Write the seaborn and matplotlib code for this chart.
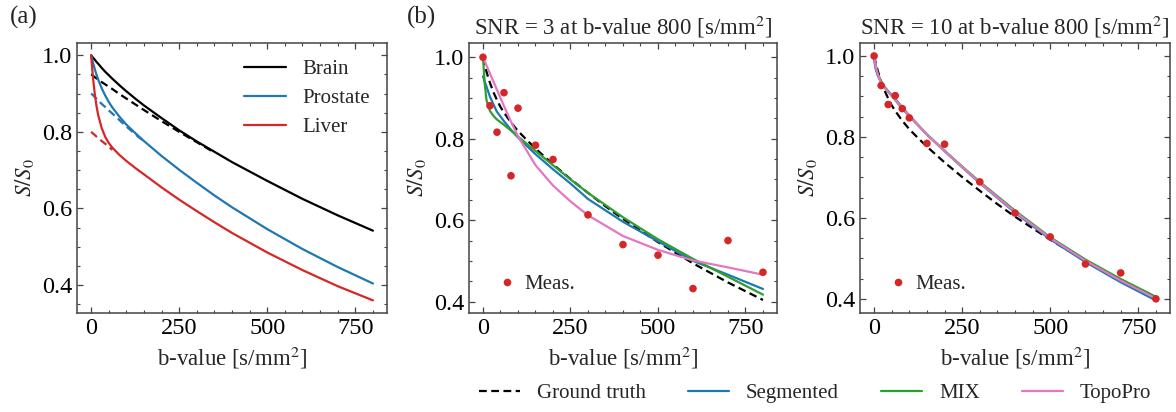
import numpy as np
import pandas as pd
import matplotlib
matplotlib.use("Agg")
import matplotlib.pyplot as plt
from matplotlib.lines import Line2D
from matplotlib.ticker import MultipleLocator
import seaborn as sns

# ---------------- data ----------------
b_a = [0, 5, 10, 15, 20, 30, 40, 50, 60, 80, 100, 125, 150, 200, 250, 300, 350, 400, 500, 600, 700, 800]
brain = [1.000, 0.994, 0.989, 0.983, 0.978, 0.967, 0.957, 0.948, 0.939, 0.922, 0.906, 0.887, 0.869, 0.836, 0.804, 0.775, 0.748, 0.721, 0.672, 0.625, 0.582, 0.542]
brain_dash = [0.950, 0.947, 0.943, 0.940, 0.937, 0.930, 0.924, 0.918, 0.912, 0.899, 0.887, 0.872, 0.857, 0.828, 0.800, 0.773, 0.746]
prostate = [1.000, 0.982, 0.965, 0.950, 0.937, 0.914, 0.895, 0.878, 0.864, 0.840, 0.819, 0.797, 0.776, 0.737, 0.701, 0.667, 0.634, 0.603, 0.546, 0.494, 0.447, 0.404]
prostate_dash = [0.900, 0.896, 0.891, 0.887, 0.882, 0.873, 0.865, 0.856, 0.848, 0.831, 0.814, 0.794, 0.775]
liver = [1.000, 0.944, 0.902, 0.869, 0.844, 0.810, 0.787, 0.771, 0.759, 0.740, 0.724, 0.706, 0.689, 0.655, 0.623, 0.593, 0.564, 0.536, 0.485, 0.439, 0.397, 0.360]
liver_dash = [0.800, 0.796, 0.792, 0.788, 0.784, 0.776, 0.769, 0.761, 0.753]

b_meas = [0, 20, 40, 60, 80, 100, 150, 200, 300, 400, 500, 600, 700, 800]
meas_snr3 = [1.000, 0.881, 0.816, 0.913, 0.709, 0.875, 0.784, 0.749, 0.613, 0.540, 0.514, 0.432, 0.550, 0.472]
meas_snr10 = [1.000, 0.927, 0.880, 0.902, 0.870, 0.847, 0.784, 0.782, 0.689, 0.612, 0.553, 0.486, 0.464, 0.400]

b_fit = [0, 5, 10, 20, 30, 40, 60, 80, 100, 150, 200, 250, 300, 400, 500, 600, 700, 800]
seg_snr3 = [0.953, 0.940, 0.928, 0.903, 0.884, 0.866, 0.843, 0.822, 0.803, 0.762, 0.725, 0.690, 0.652, 0.596, 0.548, 0.500, 0.466, 0.431]
mix_snr3 = [1.000, 0.935, 0.895, 0.868, 0.856, 0.847, 0.834, 0.820, 0.805, 0.770, 0.735, 0.700, 0.667, 0.607, 0.553, 0.505, 0.461, 0.417]
topo_snr3 = [1.000, 0.990, 0.980, 0.960, 0.940, 0.920, 0.880, 0.842, 0.806, 0.735, 0.685, 0.646, 0.612, 0.561, 0.527, 0.501, 0.484, 0.466]

seg_snr10 = [0.990, 0.966, 0.952, 0.935, 0.923, 0.913, 0.894, 0.873, 0.853, 0.806, 0.765, 0.725, 0.686, 0.613, 0.547, 0.491, 0.441, 0.396]
mix_snr10 = [1.000, 0.975, 0.958, 0.936, 0.922, 0.911, 0.891, 0.870, 0.851, 0.806, 0.766, 0.727, 0.689, 0.618, 0.552, 0.497, 0.449, 0.405]
topo_snr10 = [1.000, 0.972, 0.955, 0.933, 0.921, 0.911, 0.892, 0.872, 0.852, 0.806, 0.765, 0.726, 0.687, 0.615, 0.550, 0.494, 0.445, 0.401]

tissues = ["Brain", "Prostate", "Liver"]
methods = ["Ground truth", "Segmented", "MIX", "TopoPro"]
titles = ["SNR = 3 at b-value 800 [s/mm$^2$]", "SNR = 10 at b-value 800 [s/mm$^2$]"]

# ---------------- style ----------------
sns.set_style("ticks")
plt.rcParams.update({
    "font.family": ["Liberation Serif", "DejaVu Serif"],
    "mathtext.fontset": "stix",
    "axes.edgecolor": "#444444",
    "axes.linewidth": 1.1,
    "xtick.direction": "in",
    "ytick.direction": "in",
    "xtick.top": True,
    "ytick.right": True,
    "xtick.major.size": 4.5,
    "ytick.major.size": 4.5,
    "xtick.minor.size": 2.5,
    "ytick.minor.size": 2.5,
    "xtick.major.width": 0.9,
    "ytick.major.width": 0.9,
    "xtick.minor.width": 0.8,
    "ytick.minor.width": 0.8,
    "xtick.color": "#444444",
    "ytick.color": "#444444",
    "xtick.labelcolor": "black",
    "ytick.labelcolor": "black",
    "xtick.labelsize": 17.5,
    "ytick.labelsize": 17.5,
    "axes.labelsize": 16.5,
    "axes.titlesize": 16.5,
    "legend.fontsize": 15,
})

c_black = "black"
c_blue = "#1f77b4"
c_red = "#d62728"
c_green = "#2ca02c"
c_pink = "#e377c2"
lw = 1.6

fig = plt.figure(figsize=(11.76, 4.12), dpi=100)
ax_a = fig.add_axes([0.0655, 0.2403, 0.2636, 0.6553])
ax_b = fig.add_axes([0.3988, 0.2403, 0.2619, 0.6553])
ax_c = fig.add_axes([0.7313, 0.2403, 0.2636, 0.6553])

# ---------------- panel (a) ----------------
tissue_vals = [brain, prostate, liver]
tissue_dash = [brain_dash, prostate_dash, liver_dash]
tissue_cols = [c_black, c_blue, c_red]
for name, vals, dvals, col in zip(tissues, tissue_vals, tissue_dash, tissue_cols):
    d = pd.DataFrame({"b": b_a[:len(dvals)], "s": dvals})
    sns.lineplot(data=d, x="b", y="s", ax=ax_a, color=col, lw=lw, linestyle=(0, (3.5, 2)), zorder=2)
for name, vals, dvals, col in zip(tissues, tissue_vals, tissue_dash, tissue_cols):
    d = pd.DataFrame({"b": b_a, "s": vals})
    sns.lineplot(data=d, x="b", y="s", ax=ax_a, color=col, lw=lw, zorder=3)

hs = [Line2D([], [], color=c, lw=lw) for c in tissue_cols]
ax_a.legend(hs, tissues, loc="upper right", frameon=False, labelspacing=0.45,
            handlelength=2.0, handletextpad=0.8, borderaxespad=0.4)
ax_a.set_ylim(0.327, 1.032)

# ---------------- panels (b), (c) ----------------
sets = [
    (ax_b, meas_snr3, seg_snr3, mix_snr3, topo_snr3, (0.372, 1.035)),
    (ax_c, meas_snr10, seg_snr10, mix_snr10, topo_snr10, (0.365, 1.032)),
]
for (ax, meas, seg, mix, topo, yl), title in zip(sets, titles):
    gt = pd.DataFrame({"b": b_a, "s": prostate})
    sns.lineplot(data=gt, x="b", y="s", ax=ax, color=c_black, lw=lw, linestyle=(0, (3.5, 2)), zorder=2)
    for vals, col in zip([seg, mix, topo], [c_blue, c_green, c_pink]):
        d = pd.DataFrame({"b": b_fit, "s": vals})
        sns.lineplot(data=d, x="b", y="s", ax=ax, color=col, lw=lw, zorder=3)
    dm = pd.DataFrame({"b": b_meas, "s": meas})
    sns.scatterplot(data=dm, x="b", y="s", ax=ax, color=c_red, s=30, edgecolor="none", zorder=4)
    mh = Line2D([], [], color=c_red, marker="o", ls="none", markersize=5.5, markeredgewidth=0)
    ax.legend([mh], ["Meas."], loc="lower left", frameon=False, handlelength=1.0,
              handletextpad=0.3, bbox_to_anchor=(0.03, 0.0))
    ax.set_ylim(*yl)
    ax.set_title(title, pad=6)

for ax in [ax_a, ax_b, ax_c]:
    ax.set_xlim(-40, 840)
    ax.set_xticks([0, 250, 500, 750])
    ax.set_yticks([0.4, 0.6, 0.8, 1.0])
    ax.yaxis.set_major_formatter(matplotlib.ticker.FormatStrFormatter("%.1f"))
    ax.xaxis.set_minor_locator(MultipleLocator(50))
    ax.yaxis.set_minor_locator(MultipleLocator(0.05))
    ax.tick_params(which="both", direction="in", top=True, right=True)
    ax.set_xlabel("b-value [s/mm$^2$]")
    ax.set_ylabel("$S/S_0$")

fig.text(0.008, 0.985, "(a)", fontsize=18, va="top", ha="left")
fig.text(0.346, 0.985, "(b)", fontsize=18, va="top", ha="left")

leg_handles = [
    Line2D([], [], color=c_black, lw=lw, linestyle=(0, (3.5, 2))),
    Line2D([], [], color=c_blue, lw=lw),
    Line2D([], [], color=c_green, lw=lw),
    Line2D([], [], color=c_pink, lw=lw),
]
fig.legend(leg_handles, methods, loc="center", ncol=4, frameon=False,
           bbox_to_anchor=(815 / 1176, 1 - 393 / 412), columnspacing=2.0,
           handlelength=2.0, handletextpad=0.8)

fig.savefig("out.png", dpi=100)
